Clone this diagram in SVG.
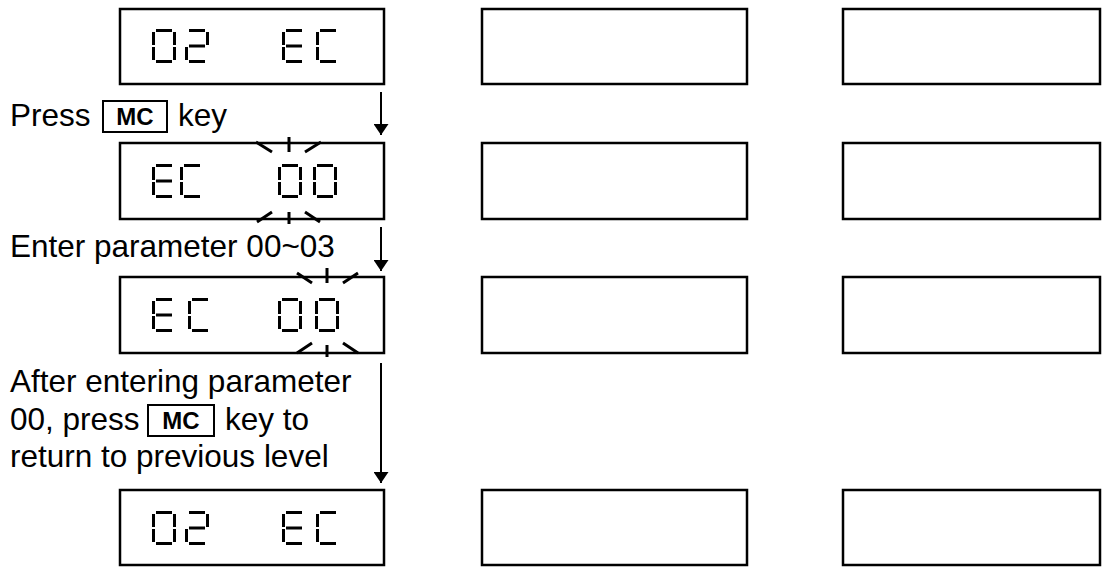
<svg xmlns="http://www.w3.org/2000/svg" xmlns:xlink="http://www.w3.org/1999/xlink" width="1102" height="567" viewBox="0 0 1102 567">
<style>
.box{fill:#fff;stroke:#000;stroke-width:2.5}
.key{fill:none;stroke:#000;stroke-width:2}
.t{font-family:"Liberation Sans",Arial,sans-serif;font-size:31.5px;fill:#000}
.k{font-family:"Liberation Sans",Arial,sans-serif;font-size:24px;font-weight:bold;fill:#000}
.seg{fill:#000}
.burst{stroke:#000;stroke-width:3;fill:none}
.conn{stroke:#000;stroke-width:2;fill:none}
</style>
<defs>
<marker id="ah" viewBox="0 0 11 15" refX="11" refY="7.5" markerWidth="11" markerHeight="15" markerUnits="userSpaceOnUse" orient="auto">
<path d="M0,0 L11,7.5 L0,15 Z" fill="#000"/>
</marker>
<g id="sa"><rect class="seg" x="4" y="0" width="16" height="3"/></g>
<g id="sb"><rect class="seg" x="21" y="3" width="3" height="13"/></g>
<g id="sc"><rect class="seg" x="21" y="18" width="3" height="13"/></g>
<g id="sd"><rect class="seg" x="4" y="31" width="16" height="3"/></g>
<g id="se"><rect class="seg" x="0" y="18" width="3" height="13"/></g>
<g id="sf"><rect class="seg" x="0" y="3" width="3" height="13"/></g>
<g id="sg"><rect class="seg" x="4" y="15.5" width="16" height="3"/></g>
<g id="d0"><use xlink:href="#sa"/><use xlink:href="#sb"/><use xlink:href="#sc"/><use xlink:href="#sd"/><use xlink:href="#se"/><use xlink:href="#sf"/></g>
<g id="d2"><use xlink:href="#sa"/><use xlink:href="#sb"/><use xlink:href="#sg"/><use xlink:href="#se"/><use xlink:href="#sd"/></g>
<g id="dE"><use xlink:href="#sa"/><use xlink:href="#sf"/><use xlink:href="#sg"/><use xlink:href="#se"/><use xlink:href="#sd"/></g>
<g id="dC"><use xlink:href="#sa"/><use xlink:href="#sf"/><use xlink:href="#se"/><use xlink:href="#sd"/></g>
</defs>
<rect width="1102" height="567" fill="#fff"/>

<g id="row1">
<g id="disp1"><rect class="box" x="120" y="9" width="264" height="75"/>
<use xlink:href="#d0" x="152" y="29"/><use xlink:href="#d2" x="185" y="29"/><use xlink:href="#dE" x="282" y="29"/><use xlink:href="#dC" x="316" y="29"/></g>
<g id="disp1b"><rect class="box" x="482" y="9" width="265" height="75"/></g>
<g id="disp1c"><rect class="box" x="843" y="9" width="257" height="75"/></g>
</g>

<g id="row2">
<g id="disp2"><rect class="box" x="120" y="143" width="264" height="76"/>
<use xlink:href="#dE" x="152" y="164"/><use xlink:href="#dC" x="180" y="164"/><use xlink:href="#d0" x="278" y="164"/><use xlink:href="#d0" x="313" y="164"/>
<path class="burst" d="M289,137 V152 M256,142 L272,152 M305,152 L321,142"/>
<path class="burst" d="M289,212 V224 M257,222 L272,212 M305,212 L320,222"/></g>
<g id="disp2b"><rect class="box" x="482" y="143" width="265" height="76"/></g>
<g id="disp2c"><rect class="box" x="843" y="143" width="257" height="76"/></g>
</g>

<g id="row3">
<g id="disp3"><rect class="box" x="120" y="277" width="264" height="76"/>
<use xlink:href="#dE" x="152" y="298"/><use xlink:href="#dC" x="188" y="298"/><use xlink:href="#d0" x="278" y="298"/><use xlink:href="#d0" x="315" y="298"/>
<path class="burst" d="M327,268 V283 M297,273 L312,283 M343,283 L358,273"/>
<path class="burst" d="M327,345 V357 M297,353 L312,343 M343,343 L358,353"/></g>
<g id="disp3b"><rect class="box" x="482" y="277" width="265" height="76"/></g>
<g id="disp3c"><rect class="box" x="843" y="277" width="257" height="76"/></g>
</g>

<g id="row4">
<g id="disp4"><rect class="box" x="120" y="490" width="264" height="75"/>
<use xlink:href="#d0" x="152" y="511"/><use xlink:href="#d2" x="185" y="511"/><use xlink:href="#dE" x="282" y="511"/><use xlink:href="#dC" x="316" y="511"/></g>
<g id="disp4b"><rect class="box" x="482" y="490" width="265" height="75"/></g>
<g id="disp4c"><rect class="box" x="843" y="490" width="257" height="75"/></g>
</g>

<g id="label1">
<text class="t" x="10" y="126">Press</text>
<rect class="key" x="103" y="101" width="64" height="31"/>
<text class="k" x="135" y="125" text-anchor="middle">MC</text>
<text class="t" x="178" y="126">key</text>
</g>
<g id="label2"><text class="t" x="10" y="257">Enter parameter 00~03</text></g>
<g id="label3">
<text class="t" x="10" y="392">After entering parameter</text>
<text class="t" x="10" y="430">00, press</text>
<rect class="key" x="148" y="405" width="66" height="31"/>
<text class="k" x="181" y="429" text-anchor="middle">MC</text>
<text class="t" x="225" y="430">key to</text>
<text class="t" x="10" y="467">return to previous level</text>
</g>

<g id="connectors">
<line class="conn" x1="381" y1="92" x2="381" y2="135" marker-end="url(#ah)"/>
<line class="conn" x1="381" y1="227" x2="381" y2="271" marker-end="url(#ah)"/>
<line class="conn" x1="381" y1="363" x2="381" y2="483" marker-end="url(#ah)"/>
</g>
</svg>
